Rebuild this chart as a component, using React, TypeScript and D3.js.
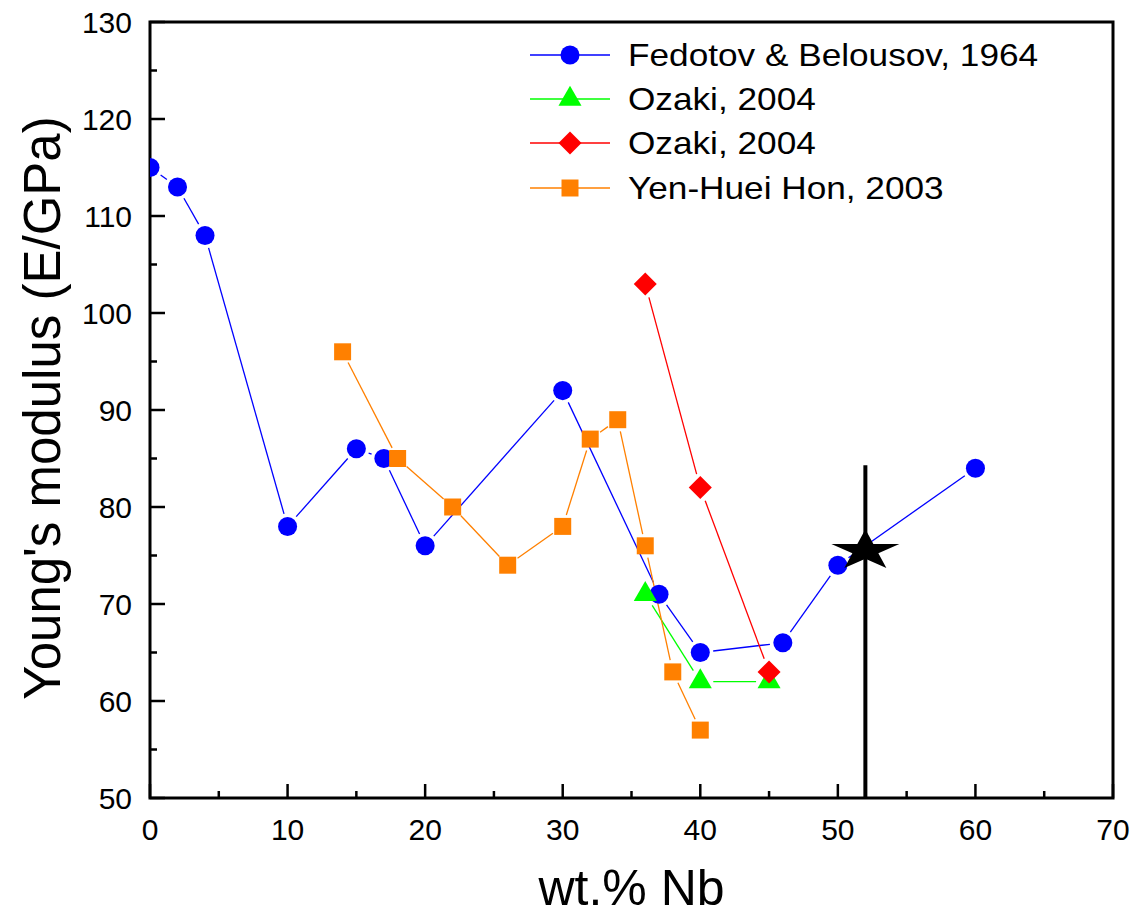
import React from "react";
import * as d3 from "d3";

type Pt = { x: number; y: number };

const fedotov: Pt[] = [
  { x: 0, y: 115 }, { x: 2, y: 113 }, { x: 4, y: 108 }, { x: 10, y: 78 },
  { x: 15, y: 86 }, { x: 17, y: 85 }, { x: 20, y: 76 }, { x: 30, y: 92 },
  { x: 37, y: 71 }, { x: 40, y: 65 }, { x: 46, y: 66 }, { x: 50, y: 74 },
  { x: 60, y: 84 },
];
const ozakiGreen: Pt[] = [{ x: 36, y: 71 }, { x: 40, y: 62 }, { x: 45, y: 62 }];
const ozakiRed: Pt[] = [{ x: 36, y: 103 }, { x: 40, y: 82 }, { x: 45, y: 63 }];
const yenHuei: Pt[] = [
  { x: 14, y: 96 }, { x: 18, y: 85 }, { x: 22, y: 80 }, { x: 26, y: 74 },
  { x: 30, y: 78 }, { x: 32, y: 87 }, { x: 34, y: 89 }, { x: 36, y: 76 },
  { x: 38, y: 63 }, { x: 40, y: 57 },
];
const starPoint = { x: 52, y: 75.5, yHigh: 84.3, yLow: 50 };

const xTicks = [0, 10, 20, 30, 40, 50, 60, 70];
const yTicks = [50, 60, 70, 80, 90, 100, 110, 120, 130];

const diamondSym: d3.SymbolType = {
  draw(ctx: any, size: number) {
    const h = Math.sqrt(size / 2);
    ctx.moveTo(0, -h);
    ctx.lineTo(h, 0);
    ctx.lineTo(0, h);
    ctx.lineTo(-h, 0);
    ctx.closePath();
  },
};

type SeriesDef = { name: string; data: Pt[]; color: string; symbol: d3.SymbolType; size: number; gap: number };
const series: SeriesDef[] = [
  { name: "Fedotov & Belousov, 1964", data: fedotov, color: "#0000ff", symbol: d3.symbolCircle, size: 285, gap: 13 },
  { name: "Ozaki, 2004", data: ozakiGreen, color: "#00ff00", symbol: d3.symbolTriangle, size: 230, gap: 13 },
  { name: "Ozaki, 2004", data: ozakiRed, color: "#ff0000", symbol: diamondSym, size: 265, gap: 14 },
  { name: "Yen-Huei Hon, 2003", data: yenHuei, color: "#ff8000", symbol: d3.symbolSquare, size: 289, gap: 12 },
];

const FONT = "'Liberation Sans', Arial, sans-serif";

export default function App() {
  const W = 1145, H = 915;
  const L = 150, R = 1113, T = 22, B = 798;
  const x = d3.scaleLinear().domain([0, 70]).range([L, R]);
  const y = d3.scaleLinear().domain([50, 130]).range([B, T]);

  const minorX = d3.range(5, 70, 10);
  const minorY = d3.range(55, 130, 10);

  const segs = (s: SeriesDef) => {
    const out: any[] = [];
    for (let i = 0; i < s.data.length - 1; i++) {
      const x1 = x(s.data[i].x), y1 = y(s.data[i].y);
      const x2 = x(s.data[i + 1].x), y2 = y(s.data[i + 1].y);
      const len = Math.hypot(x2 - x1, y2 - y1);
      if (len <= 2 * s.gap) continue;
      const ux = (x2 - x1) / len, uy = (y2 - y1) / len;
      out.push(
        <line key={i} x1={x1 + ux * s.gap} y1={y1 + uy * s.gap} x2={x2 - ux * s.gap} y2={y2 - uy * s.gap}
          stroke={s.color} strokeWidth={1.3} />
      );
    }
    return out;
  };

  const sym = (s: SeriesDef) => d3.symbol().type(s.symbol).size(s.size)() as string;
  const starPath = d3.symbol().type(d3.symbolStar).size(1435)() as string;

  const legendX0 = 530, legendX1 = 610, legendMx = 570, legendTx = 628;
  const legendY = [55, 99, 143, 188];

  return (
    <svg width={W} height={H} style={{ position: "absolute", left: 0, top: 0, background: "#fff" }} fontFamily={FONT}>
      <defs>
        <clipPath id="plotclip">
          <rect x={L} y={T} width={R - L} height={B - T} />
        </clipPath>
      </defs>
      {/* frame */}
      <rect x={L} y={T} width={R - L} height={B - T} fill="none" stroke="#000" strokeWidth={3} />
      {/* x ticks */}
      {xTicks.map((t) => (
        <g key={"xt" + t}>
          <line x1={x(t)} x2={x(t)} y1={B} y2={B - 14} stroke="#000" strokeWidth={2.5} />
          <text x={x(t)} y={B + 42} textAnchor="middle" fontSize={30}>{t}</text>
        </g>
      ))}
      {minorX.map((t) => (
        <line key={"xm" + t} x1={x(t)} x2={x(t)} y1={B} y2={B - 7} stroke="#000" strokeWidth={2.5} />
      ))}
      {yTicks.map((t) => (
        <g key={"yt" + t}>
          <line x1={L} x2={L + 15} y1={y(t)} y2={y(t)} stroke="#000" strokeWidth={2.5} />
          <text x={L - 18} y={y(t) + 10.5} textAnchor="end" fontSize={30}>{t}</text>
        </g>
      ))}
      {minorY.map((t) => (
        <line key={"ym" + t} x1={L} x2={L + 7} y1={y(t)} y2={y(t)} stroke="#000" strokeWidth={2.5} />
      ))}
      {/* axis titles */}
      <text x={x(35)} y={905} textAnchor="middle" fontSize={50}>wt.% Nb</text>
      <text transform={`translate(60, 408) rotate(-90)`} textAnchor="middle" fontSize={51}>
        Young's modulus (E/GPa)
      </text>

      <g clipPath="url(#plotclip)">
        {series.map((s, i) => <g key={"l" + i}>{segs(s)}</g>)}
        {series.map((s, i) => (
          <g key={"m" + i}>
            {s.data.map((p, j) => (
              <path key={j} d={sym(s)} transform={`translate(${x(p.x)},${y(p.y)})`} fill={s.color} />
            ))}
          </g>
        ))}
        <line x1={x(starPoint.x)} x2={x(starPoint.x)} y1={y(starPoint.yHigh)} y2={y(starPoint.yLow)} stroke="#000" strokeWidth={4} />
        <path d={starPath} transform={`translate(${x(starPoint.x)},${y(starPoint.y)}) scale(1,0.6)`} fill="#000" />
      </g>

      {/* legend */}
      {series.map((s, i) => (
        <g key={"lg" + i}>
          <line x1={legendX0} x2={legendX1} y1={legendY[i]} y2={legendY[i]} stroke={s.color} strokeWidth={1.3} />
          <path d={sym(s)} transform={`translate(${legendMx},${legendY[i]})`} fill={s.color} />
          <text transform={`translate(${legendTx},${legendY[i] + 11}) scale(1.1,1)`} fontSize={32}>{s.name}</text>
        </g>
      ))}
    </svg>
  );
}
